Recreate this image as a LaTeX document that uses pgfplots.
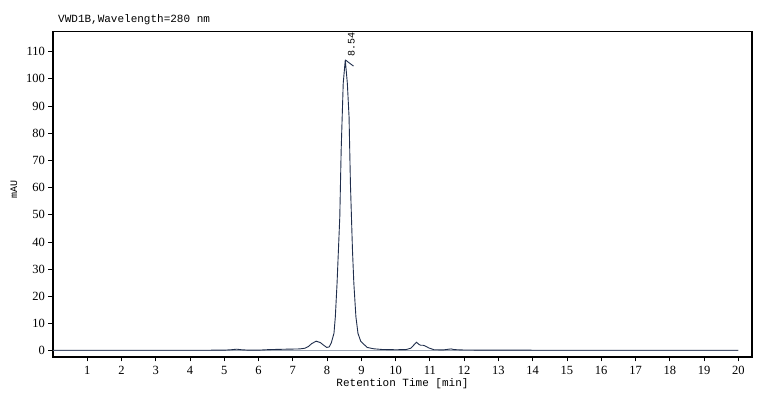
\documentclass[border=0pt]{standalone}
\usepackage{fontspec}
\setmainfont{Liberation Mono}
\newfontfamily\tickfont{Liberation Serif}
\usepackage{pgfplots}
\pgfplotsset{compat=1.18}
\definecolor{trace}{RGB}{32,46,76}
\definecolor{basecol}{RGB}{150,160,175}

\begin{document}
\begin{tikzpicture}
	\begin{axis}[
			scale only axis,
			width=699pt,
			height=325.5pt,
			xmin=0, xmax=20.4,
			ymin=-2.32, ymax=117.44,
			xtick={1,2,...,20},
			ytick={0,10,...,110},
			tick pos=left,
			tick align=outside,
			major tick length=4.5pt,
			tick style={black, line width=0.9pt},
			axis line style={black, line width=1.2pt},
			/pgf/number format/assume math mode=true,
			ticklabel style={font=\tickfont\fontsize{12.5}{12.5}\selectfont},
			xticklabel style={yshift=-1pt},
			xlabel={Retention Time [min]},
			xlabel style={font=\fontsize{11}{11}\selectfont, at={(axis description cs:0.5,0)}, anchor=center, yshift=-27pt},
			clip=false,
		]
		% baseline
		\addplot[basecol, line width=0.9pt] coordinates {(0,0) (20,0)};
		% detector signal
		\addplot[trace, line width=0.9pt] coordinates {
			(0,0.15) (1,0.15) (2,0.15) (3,0.15) (4,0.15) (5,0.2)
			(5.2,0.35) (5.36,0.55) (5.5,0.35) (5.7,0.2) (6.0,0.2)
			(6.3,0.4) (6.8,0.55) (7.2,0.65) (7.35,0.9) (7.45,1.5)
			(7.55,2.6) (7.68,3.5) (7.8,3.0) (7.9,2.0) (7.99,1.2)
			(8.06,1.4) (8.12,2.8) (8.20,6.4) (8.24,12.5) (8.29,24.8)
			(8.33,37.0) (8.37,49.3) (8.39,61.6) (8.41,73.8) (8.44,86.1)
			(8.47,98.4) (8.53,107) (8.59,98.4) (8.64,86.1) (8.66,73.8)
			(8.68,61.6) (8.71,49.3) (8.74,37.0) (8.78,24.8) (8.84,12.5)
			(8.90,6.4) (8.98,3.5) (9.06,2.5) (9.17,1.2) (9.36,0.7)
			(9.6,0.45) (10.0,0.35) (10.3,0.4) (10.44,0.9) (10.54,2.2)
			(10.61,3.1) (10.68,2.3) (10.73,2.0) (10.8,2.0) (10.85,1.8)
			(10.97,1.0) (11.12,0.35) (11.4,0.3) (11.55,0.55) (11.62,0.65)
			(11.7,0.4) (12,0.25) (13,0.2) (14,0.18) (15,0.15) (16,0.15)
			(17,0.15) (18,0.15) (19,0.15) (20,0.15)
		};
		% peak marker and retention time
		\draw[trace, line width=0.9pt] (axis cs:8.53,107) -- (axis cs:8.77,104.7);
		\node[rotate=90, anchor=base west, inner sep=0pt, font=\fontsize{10}{10}\selectfont]
			at (axis cs:8.80,108.1) {8.54};
	\end{axis}
	\node[anchor=base west, inner sep=0pt, font=\fontsize{11}{11}\selectfont]
		at (5pt,334.3pt) {VWD1B,Wavelength=280 nm};
	\node[rotate=90, anchor=center, inner sep=0pt, font=\fontsize{10}{10}\selectfont]
		at (-39pt,167pt) {mAU};
	\pgfresetboundingbox
	\useasboundingbox (-53pt,-44pt) rectangle (727pt,357pt);
\end{tikzpicture}
\end{document}
